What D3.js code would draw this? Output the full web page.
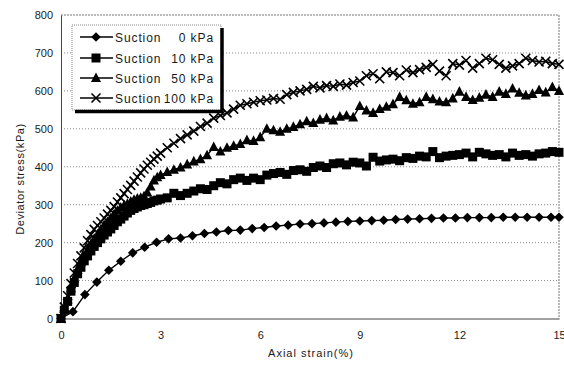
<!DOCTYPE html>
<html>
<head>
<meta charset="utf-8">
<script src="https://cdn.jsdelivr.net/npm/d3@7"></script>
<style>
  body { margin: 0; background: #fff; }
  #viz { width: 564px; height: 367px; }
  text { font-family: "Liberation Sans", Arial, sans-serif; fill: #1a1a1a; }
</style>
</head>
<body>
<div id="viz"></div>
<script>
// -----------------------------
// DATA
// -----------------------------
const xTicks = [0, 3, 6, 9, 12, 15];
const yTicks = [0, 100, 200, 300, 400, 500, 600, 700, 800];

const seriesNames = ["0 kPa", "10 kPa", "50 kPa", "100 kPa"];

// suction 0 kPa, sparse readings
const strain0 = [0, 0.36, 0.72, 1.08, 1.44, 1.8, 2.16, 2.52, 2.88, 3.24, 3.6, 3.96, 4.32, 4.68,
  5.04, 5.4, 5.76, 6.12, 6.48, 6.84, 7.2, 7.56, 7.92, 8.28, 8.64, 9.0, 9.36, 9.72, 10.08,
  10.44, 10.8, 11.16, 11.52, 11.88, 12.24, 12.6, 12.96, 13.32, 13.68, 14.04, 14.4, 14.76, 15.0];
const stress0 = [0, 18, 63, 96, 127, 151, 173, 188, 201, 210, 212, 218, 224, 228,
  232, 233, 237, 240, 244, 246, 249, 250, 252, 254, 256, 257, 258, 259, 261,
  262, 263, 264, 265, 265, 266, 266, 266, 267, 267, 267, 267, 267, 267];

// suction 10 / 50 / 100 kPa, dense readings
const strainDense = [0, 0.1, 0.2, 0.3, 0.4, 0.5, 0.6, 0.7, 0.8, 0.9, 1.0, 1.1, 1.2, 1.3, 1.4,
  1.5, 1.6, 1.7, 1.8, 1.9, 2.0, 2.1, 2.2, 2.3, 2.4, 2.5, 2.6, 2.7, 2.8, 2.9, 3.0,
  3.2, 3.4, 3.6, 3.8, 4.0, 4.2, 4.4, 4.6, 4.8, 5.0, 5.2, 5.4, 5.6, 5.8, 6.0,
  6.2, 6.4, 6.6, 6.8, 7.0, 7.2, 7.4, 7.6, 7.8, 8.0, 8.2, 8.4, 8.6, 8.8, 9.0,
  9.2, 9.4, 9.6, 9.8, 10.0, 10.2, 10.4, 10.6, 10.8, 11.0, 11.2, 11.4, 11.6, 11.8, 12.0,
  12.2, 12.4, 12.6, 12.8, 13.0, 13.2, 13.4, 13.6, 13.8, 14.0, 14.2, 14.4, 14.6, 14.8, 15.0];

const stress10 = [0, 22, 45, 72, 95, 118, 135, 152, 165, 178, 190, 200, 210, 220, 228,
  236, 245, 255, 262, 270, 278, 285, 290, 294, 298, 300, 303, 306, 310, 312, 315,
  318, 330, 324, 330, 336, 342, 340, 350, 358, 355,
  366, 370, 364, 370, 366, 378, 382, 385, 380, 390,
  392, 388, 398, 402, 398, 408, 410, 405, 412, 410,
  402, 425, 415, 418, 420, 416, 424, 422, 428, 426,
  440, 424, 428, 430, 432, 436, 426, 438, 434, 430,
  432, 426, 436, 430, 432, 428, 434, 436, 440, 438];

const stress50 = [0, 25, 50, 80, 105, 128, 148, 165, 180, 196, 210, 222, 235, 246, 255,
  265, 275, 284, 292, 298, 302, 308, 313, 316, 318, 322, 332, 348, 364, 372, 378,
  386, 392, 398, 406, 414, 420, 430, 452, 440, 450,
  455, 460, 470, 468, 478, 500, 496, 492, 500, 505,
  512, 520, 515, 524, 528, 522, 532, 535, 530, 560,
  548, 542, 552, 558, 565, 584, 575, 566, 570, 584,
  578, 572, 570, 580, 598, 584, 576, 582, 590, 584,
  598, 592, 606, 595, 588, 592, 602, 596, 610, 600];

const stress100 = [0, 30, 60, 92, 120, 145, 165, 186, 205, 221, 235, 245, 255, 265, 275,
  285, 295, 307, 318, 329, 340, 351, 362, 373, 384, 394, 404, 412, 420, 428, 436,
  450, 462, 474, 484, 494, 506, 515, 528, 535, 542,
  552, 562, 566, 570, 574, 576, 580, 578, 590, 596,
  600, 604, 612, 608, 614, 612, 618, 615, 622, 626,
  640, 645, 632, 650, 648, 640, 655, 648, 656, 662,
  670, 652, 640, 672, 668, 680, 660, 672, 686, 682,
  670, 660, 666, 672, 686, 680, 676, 678, 672, 670];

// -----------------------------
// SETUP
// -----------------------------
const width = 564, height = 367;
const svg = d3.select("#viz").append("svg")
  .attr("width", width)
  .attr("height", height);

const x = d3.scaleLinear().domain([0, 15]).range([61, 559]);
const y = d3.scaleLinear().domain([0, 800]).range([318.5, 15]);

// gridlines
svg.append("g")
  .selectAll("line")
  .data(yTicks.filter(d => d > 0 && d < 800))
  .join("line")
  .attr("x1", x(0)).attr("x2", x(15))
  .attr("y1", d => y(d)).attr("y2", d => y(d))
  .attr("stroke", "#8a8a8a")
  .attr("stroke-width", 1)
  .attr("stroke-dasharray", "1,2");

// frame: top + right dotted
svg.append("path")
  .attr("d", `M${x(0)},${y(800)}H${x(15)}V${y(0)}`)
  .attr("fill", "none")
  .attr("stroke", "#777")
  .attr("stroke-dasharray", "2,1");

// axes
const yAxis = svg.append("g")
  .attr("transform", `translate(${x(0)},0)`)
  .call(d3.axisLeft(y).tickValues(yTicks).tickSize(0).tickPadding(8));
yAxis.select(".domain").attr("stroke", "#444");
yAxis.selectAll("text").style("font-size", "11px").attr("fill", "#1a1a1a");

const xAxis = svg.append("g")
  .attr("transform", `translate(0,${y(0)})`)
  .call(d3.axisBottom(x).tickValues(xTicks).tickSize(0).tickPadding(13));
xAxis.select(".domain").attr("stroke", "#444");
xAxis.selectAll("text").style("font-size", "11px").attr("fill", "#1a1a1a");

// axis titles
svg.append("text")
  .attr("transform", `translate(24,${179}) rotate(-90)`)
  .attr("text-anchor", "middle")
  .style("font-size", "11px")
  .style("letter-spacing", "0.6px")
  .text("Deviator stress(kPa)");

svg.append("text")
  .attr("x", 311).attr("y", 357)
  .attr("text-anchor", "middle")
  .style("font-size", "11px")
  .style("letter-spacing", "1px")
  .text("Axial strain(%)");

// -----------------------------
// MARKERS
// -----------------------------
const markers = [
  g => g.append("path").attr("d", "M0,-4.8L4.8,0L0,4.8L-4.8,0Z").attr("fill", "#000"),
  g => g.append("rect").attr("x", -4.5).attr("y", -4.5).attr("width", 9).attr("height", 9).attr("fill", "#000"),
  g => g.append("path").attr("d", "M0,-5.6L5,4L-5,4Z").attr("fill", "#000"),
  g => g.append("path").attr("d", "M-4.5,-4.5L4.5,4.5M-4.5,4.5L4.5,-4.5").attr("stroke", "#000").attr("stroke-width", 1.6).attr("fill", "none")
];

const series = [
  { strain: strain0, stress: stress0 },
  { strain: strainDense, stress: stress10 },
  { strain: strainDense, stress: stress50 },
  { strain: strainDense, stress: stress100 }
];

const line = d3.line().x(d => x(d[0])).y(d => y(d[1]));

series.forEach((s, i) => {
  const pts = s.stress.map((v, j) => [s.strain[j], v]);
  svg.append("path")
    .datum(pts)
    .attr("d", line)
    .attr("fill", "none")
    .attr("stroke", "#000")
    .attr("stroke-width", 1.4);
  const g = svg.append("g");
  pts.forEach(p => {
    const m = g.append("g").attr("transform", `translate(${x(p[0])},${y(p[1])})`);
    markers[i](m);
  });
});

// -----------------------------
// LEGEND
// -----------------------------
const lg = svg.append("g");
lg.append("rect")
  .attr("x", 72).attr("y", 25).attr("width", 149).attr("height", 85)
  .attr("fill", "#fff")
  .attr("stroke", "#888")
  .attr("stroke-dasharray", "1,1");
// heavy shadow right + bottom
lg.append("path")
  .attr("d", "M222,28V111.5H75")
  .attr("fill", "none")
  .attr("stroke", "#000")
  .attr("stroke-width", 3.5);

const legendY = [37, 58, 78, 98];
seriesNames.forEach((name, i) => {
  const ly = legendY[i];
  lg.append("line")
    .attr("x1", 80).attr("x2", 113)
    .attr("y1", ly).attr("y2", ly)
    .attr("stroke", "#000").attr("stroke-width", 1.4);
  const m = lg.append("g").attr("transform", `translate(96,${ly})`);
  markers[i](m);
  lg.append("text")
    .attr("x", 115).attr("y", ly + 4.5)
    .style("font-size", "12px")
    .style("letter-spacing", "0.9px")
    .text("Suction");
  lg.append("text")
    .attr("x", 214).attr("y", ly + 4.5)
    .attr("text-anchor", "end")
    .style("font-size", "12px")
    .style("letter-spacing", "0.9px")
    .text(name);
});
</script>
</body>
</html>
